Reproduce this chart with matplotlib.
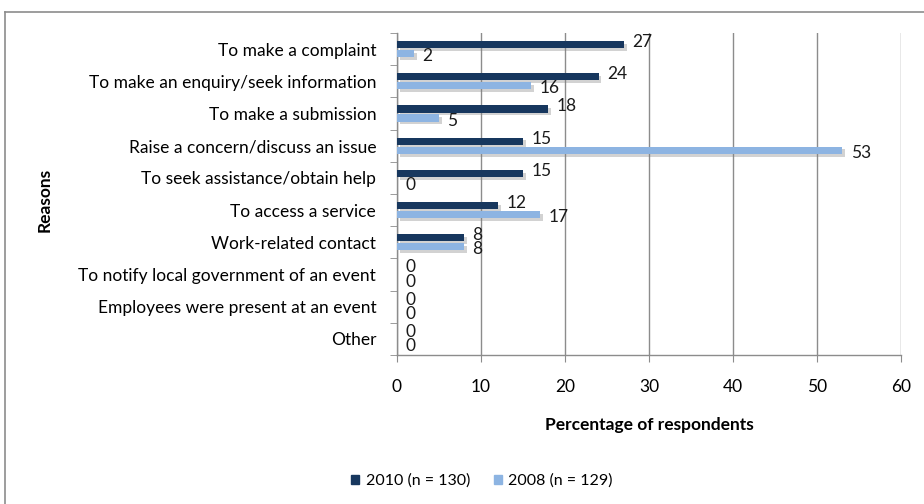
import matplotlib.pyplot as plt
import matplotlib.patheffects as pe
from matplotlib.lines import Line2D
from matplotlib.patches import Patch
import numpy as np

plt.rcParams['font.family'] = ['Lato', 'DejaVu Sans']

reasons = [
    'To make a complaint',
    'To make an enquiry/seek information',
    'To make a submission',
    'Raise a concern/discuss an issue',
    'To seek assistance/obtain help',
    'To access a service',
    'Work-related contact',
    'To notify local government of an event',
    'Employees were present at an event',
    'Other',
]
pct_2010 = [27, 24, 18, 15, 15, 12, 8, 0, 0, 0]
pct_2008 = [2, 16, 5, 53, 0, 17, 8, 0, 0, 0]
label_2010 = '2010 (n = 130)'
label_2008 = '2008 (n = 129)'

dark = '#17375E'
light = '#8DB4E2'
grey = '#8C8C8C'
fs = 12.5

fig = plt.figure(figsize=(9.24, 5.04), dpi=100)
ax = fig.add_axes([397 / 924, 1 - 355 / 504, 504 / 924, 322 / 504])

# outer chart frame (left and top edges visible)
fig.add_artist(Line2D([5 / 924, 5 / 924], [0, 1 - 12 / 504], color=grey, lw=1.2,
                      transform=fig.transFigure))
fig.add_artist(Line2D([5 / 924, 1], [1 - 12 / 504, 1 - 12 / 504], color=grey, lw=1.2,
                      transform=fig.transFigure))

y = np.arange(len(reasons))
h = 0.22
off = 0.14
shadow = [pe.SimplePatchShadow(offset=(2, -2), alpha=0.35, shadow_rgbFace='#808080'), pe.Normal()]

b1 = ax.barh(y - off, pct_2010, height=h, color=dark, zorder=3)
b2 = ax.barh(y + off, pct_2008, height=h, color=light, zorder=3)
for bars in (b1, b2):
    for b in bars:
        b.set_path_effects(shadow)

for yi, v in zip(y - off, pct_2010):
    ax.text(v + 1.0, yi - 0.08, str(v), va='center', ha='left', fontsize=fs, color='#1a1a1a', zorder=4)
for yi, v in zip(y + off, pct_2008):
    ax.text(v + 1.0, yi + 0.08, str(v), va='center', ha='left', fontsize=fs, color='#1a1a1a', zorder=4)

ax.set_xlim(0, 60)
ax.set_ylim(len(reasons) - 0.5, -0.5)
ax.set_xticks(range(0, 61, 10))
ax.set_yticks(y)
ax.set_yticklabels(reasons, fontsize=fs)
ax.set_yticks(np.arange(-0.5, len(reasons)), minor=True)
ax.tick_params(axis='y', which='major', length=0, pad=15)
ax.tick_params(axis='y', which='minor', length=5, color=grey, direction='out')
ax.tick_params(axis='x', length=5, color=grey, direction='out', pad=12, labelsize=fs)

ax.grid(axis='x', color=grey, lw=1.0, zorder=0)
for s in ('top', 'right'):
    ax.spines[s].set_visible(False)
for s in ('left', 'bottom'):
    ax.spines[s].set_color(grey)
    ax.spines[s].set_linewidth(1.0)

ax.set_xlabel('Percentage of respondents', fontsize=fs, fontweight='bold', labelpad=16)
fig.text(45 / 924, 1 - 200 / 504, 'Reasons', rotation=90, ha='center', va='center',
         fontsize=fs, fontweight='bold')

handles = [Patch(color=dark, label=label_2010), Patch(color=light, label=label_2008)]
fig.legend(handles=handles, loc='center', bbox_to_anchor=(482 / 924, 1 - 481 / 504),
           ncol=2, frameon=False, fontsize=11.5, handlelength=0.5, handleheight=0.5,
           handletextpad=0.4, columnspacing=1.5)

fig.savefig('out.png', dpi=100)
